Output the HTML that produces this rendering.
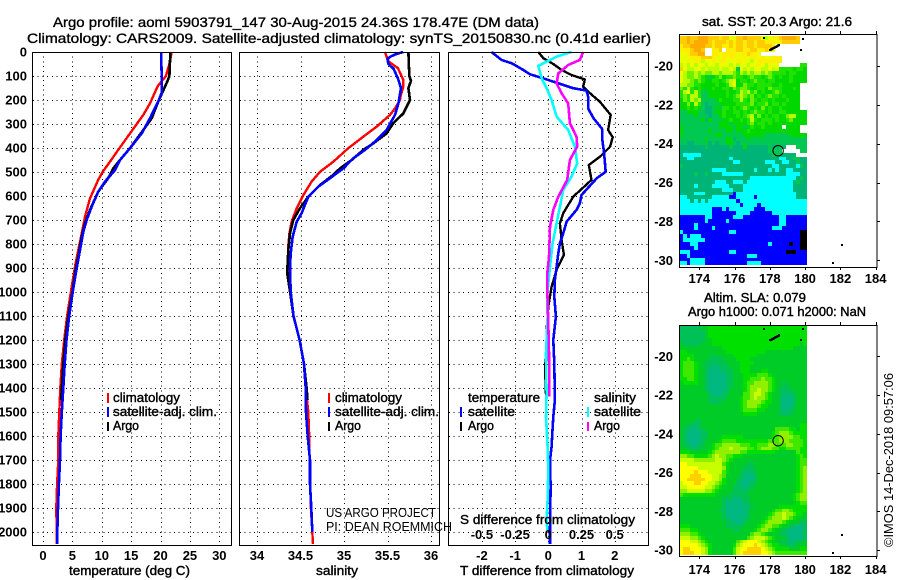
<!DOCTYPE html>
<html lang="en">
<head>
<meta charset="utf-8">
<title>Argo profile 5903791_147</title>
<style>
html,body{margin:0;padding:0;background:#fff;}
svg{display:block;}
text{font-family:"Liberation Sans",sans-serif;fill:#000;}
.b{font-weight:bold;font-size:13px;}
.t{font-size:14px;stroke:#000;stroke-width:.35px;}
.l{font-size:13px;stroke:#000;stroke-width:.4px;}
.n{font-size:13px;}
</style>
</head>
<body>
<svg id="chart" xmlns="http://www.w3.org/2000/svg" width="900" height="580" viewBox="0 0 900 580">
<text class="t" x="53" y="27" textLength="486" lengthAdjust="spacingAndGlyphs">Argo profile: aoml 5903791_147 30-Aug-2015 24.36S 178.47E (DM data)</text>
<text class="t" x="27" y="43" textLength="624" lengthAdjust="spacingAndGlyphs">Climatology: CARS2009. Satellite-adjusted climatology: synTS_20150830.nc (0.41d earlier)</text>

<g id="gridT"></g>
<g id="gridS"></g>
<g id="gridD"></g>
<g id="linesT"></g>
<g id="linesS"></g>
<g id="linesD"></g>

<rect x="32.5" y="52.5" width="199" height="493" fill="none" stroke="#000"/>
<rect x="239.5" y="52.5" width="200" height="493" fill="none" stroke="#000"/>
<rect x="448.5" y="52.5" width="200" height="493" fill="none" stroke="#000"/>

<g id="tickLabels"></g>

<text class="l" x="69" y="575" textLength="121" lengthAdjust="spacingAndGlyphs">temperature (deg C)</text>
<text class="l" x="316" y="575" textLength="42" lengthAdjust="spacingAndGlyphs">salinity</text>
<text class="l" x="460" y="575" textLength="174" lengthAdjust="spacingAndGlyphs">T difference from climatology</text>
<text class="l" x="460" y="524" textLength="175" lengthAdjust="spacingAndGlyphs">S difference from climatology</text>

<g>
<rect x="107" y="393" width="2" height="10" fill="#f00"/>
<rect x="107" y="407" width="2" height="10" fill="#00f"/>
<rect x="107" y="422" width="2" height="9" fill="#000"/>
<text class="l" x="113" y="402" textLength="67" lengthAdjust="spacingAndGlyphs">climatology</text>
<text class="l" x="113" y="416" textLength="104" lengthAdjust="spacingAndGlyphs">satellite-adj. clim.</text>
<text class="l" x="113" y="430" textLength="26" lengthAdjust="spacingAndGlyphs">Argo</text>
</g>
<g>
<rect x="328" y="393" width="2" height="10" fill="#f00"/>
<rect x="328" y="407" width="2" height="10" fill="#00f"/>
<rect x="328" y="422" width="2" height="9" fill="#000"/>
<text class="l" x="335" y="402" textLength="67" lengthAdjust="spacingAndGlyphs">climatology</text>
<text class="l" x="335" y="416" textLength="104" lengthAdjust="spacingAndGlyphs">satellite-adj. clim.</text>
<text class="l" x="335" y="430" textLength="26" lengthAdjust="spacingAndGlyphs">Argo</text>
</g>
<g>
<text class="l" x="468" y="402" textLength="72" lengthAdjust="spacingAndGlyphs">temperature</text>
<rect x="460" y="407" width="2" height="10" fill="#00f"/>
<text class="l" x="468" y="416" textLength="47" lengthAdjust="spacingAndGlyphs">satellite</text>
<rect x="460" y="422" width="2" height="9" fill="#000"/>
<text class="l" x="468" y="430" textLength="26" lengthAdjust="spacingAndGlyphs">Argo</text>
<text class="l" x="594" y="402" textLength="42" lengthAdjust="spacingAndGlyphs">salinity</text>
<rect x="587" y="407" width="2" height="10" fill="#0ff"/>
<text class="l" x="594" y="416" textLength="47" lengthAdjust="spacingAndGlyphs">satellite</text>
<rect x="587" y="422" width="2" height="9" fill="#f0f"/>
<text class="l" x="594" y="430" textLength="26" lengthAdjust="spacingAndGlyphs">Argo</text>
</g>

<text class="n" x="326" y="517" textLength="110" lengthAdjust="spacingAndGlyphs">US ARGO PROJECT</text>
<text class="n" x="326" y="531" textLength="126" lengthAdjust="spacingAndGlyphs">PI: DEAN ROEMMICH</text>

<text class="l" x="702" y="26" textLength="150" lengthAdjust="spacingAndGlyphs">sat. SST: 20.3 Argo: 21.6</text>
<text class="l" x="704" y="302" textLength="102" lengthAdjust="spacingAndGlyphs">Altim. SLA: 0.079</text>
<text class="l" x="688" y="316" textLength="178" lengthAdjust="spacingAndGlyphs">Argo h1000: 0.071 h2000: NaN</text>

<g id="mapSST"></g>
<g id="mapSLA"></g>

<text class="n" x="893" y="547" textLength="174" lengthAdjust="spacingAndGlyphs" transform="rotate(-90 893 547)">©IMOS 14-Dec-2018 09:57:06</text>
</svg>

<script>
// ---- profile data ----
var tempClimDepth = [0,50,101,143,214,262,339,408,457,499,533,610,686,756,825,894,983,1100,1200,1300,1400,1500,1600,1700,1800,1900,2000,2050];
var tempClim = [21.9,21.5,20.9,19.5,18.2,17.07,14.8,12.8,11.4,10.16,9.4,8,7.15,6.58,6,5.44,4.85,4.1,3.6,3.2,2.95,2.78,2.6,2.6,2.4,2.27,2.33,2.33];
var tempArgoDepth = [0,100,120,207,276,325,401,450,485,526,582,658,714,769,853,901,1000,1100,1200,1300,1400,1450];
var tempArgo = [21.67,21.5,21.2,19.6,18.5,17.07,14.8,13.1,11.97,11.1,9.4,8,7.15,6.58,6,5.6,5,4.3,3.8,3.45,3.2,3.1];
var tempSatDepth = [0,100,170,207,276,339,401,450,492,540,582,644,700,749,825,901,1000,1100,1200,1300,1400,1500,1600,1700,1800,1900,2000,2050];
var tempSat = [20.1,20.2,20.2,19.6,18.2,16.8,14.8,13.1,12.25,10.55,9.4,8.28,7.43,6.86,6.3,5.73,5.05,4.45,4,3.7,3.46,3.2,3,2.9,2.7,2.55,2.44,2.44];

var salClimDepth = [0,39,67,115,146,185,200,235,262,311,353,401,457,499,540,596,651,707,756,811,900,1000,1100,1200,1300,1400,1500,1600,1800,1900,2000,2050];
var salClim = [35.47,35.51,35.62,35.68,35.68,35.65,35.644,35.586,35.529,35.376,35.222,35.05,34.877,34.724,34.628,34.533,34.456,34.398,34.372,34.36,34.36,34.38,34.42,34.49,34.54,34.56,34.59,34.6,34.61,34.62,34.636,34.644];
var salArgoDepth = [0,100,120,150,200,256,297,339,381,408,450,485,512,554,603,651,700,756,825,901,930,1000,1100,1200,1300,1400,1450];
var salArgo = [35.74,35.75,35.77,35.74,35.759,35.682,35.567,35.49,35.337,35.222,35.088,34.954,34.877,34.724,34.59,34.494,34.417,34.379,34.36,34.349,34.35,34.38,34.42,34.49,34.54,34.57,34.58];
var salSatDepth = [0,10,20,30,50,70,110,150,214,262,325,367,408,443,485,526,561,603,672,707,769,839,901,1000,1100,1200,1300,1400,1500,1600,1700,1800,1900,2000];
var salSat = [35.68,35.59,35.53,35.5,35.51,35.57,35.62,35.655,35.625,35.586,35.49,35.376,35.241,35.107,34.992,34.839,34.705,34.59,34.513,34.456,34.41,34.387,34.379,34.387,34.42,34.49,34.54,34.56,34.563,34.583,34.609,34.609,34.624,34.636];

var dTSatDepth = [0,33,47,75,93,110,128,151,161,186,235,276,322,367,422,499,526,596,631,658,707,756,797,839,950,1019,1103,1200,1297,1450,1519,1589,1644,1700,1811,1992,2050];
var dTSat = [-1.71,-1.41,-1.1,-0.75,-0.55,-0.15,0.25,0.75,1.15,1.2,1.2,1.36,1.63,1.63,1.68,1.73,1.46,1,0.95,0.85,0.55,0.45,0.35,0.3,0.2,0.18,0.23,0.15,0.18,0.2,0.15,0.12,0.1,0.05,0.07,0.05,0.05];
var dTArgoDepth = [0,26,50,75,96,114,144,165,207,262,325,355,394,436,471,533,603,672,714,783,846,908,978,1061,1158,1228,1311,1429];
var dTArgo = [-0.3,-0.15,0.15,0.4,0.7,1.1,1.05,1.2,1.55,1.88,1.8,1.94,1.86,1.56,1.22,1.3,0.75,0.45,0.35,0.4,0.47,0.25,0.1,0,-0.05,-0.03,-0.1,-0.07];
var dSSatDepth = [0,19,58,110,151,200,269,325,394,464,519,575,631,714,797,894,1006,1103,1256,1422,1519,1644,1742,1867,1950,1992];
var dSSat = [0.175,0.0625,-0.075,-0.05,-0.0125,0.025,0.0625,0.15,0.2,0.2175,0.175,0.1125,0.0925,0.0625,0.0325,0.0125,-0.0075,-0.005,-0.0175,-0.0125,-0.0175,-0.005,0,-0.005,-0.0125,-0.0075];
var dSArgoDepth = [0,33,54,89,131,172,214,297,353,394,450,533,603,658,728,853,922,992,1131,1256,1436];
var dSArgo = [0.2625,0.2375,0.15,0.075,0.0625,0.1,0.15,0.1625,0.2125,0.2175,0.1625,0.1425,0.075,0.0375,0.0125,0.005,-0.0075,-0.0075,0,0.005,0.0075];

// ---- tick labels ----
var depthTicks = [0,100,200,300,400,500,600,700,800,900,1000,1100,1200,1300,1400,1500,1600,1700,1800,1900,2000];
var tempTicks = [0,5,10,15,20,25,30];
var salTicks = [34,34.5,35,35.5,36];
var dTTicks = [-2,-1,0,1,2];
var dSTicks = [-0.5,-0.25,0,0.25,0.5];
var lonTicks = [174,176,178,180,182,184];
var latTicks = [-20,-22,-24,-26,-28,-30];

// ---- map data: one letter per 0.2 degree cell, north to south ----
var sstRows = [
"BBABBAAABBBCBBDDBBABBBBDEDCCBAAAAB..",
"BBABAAAABCBBBCBCBBCBBCBBCCCDCBBBBB..",
"CBBAAAABBCBBCCBCBBCBBCBBBBC.........",
"CCCBAAB..CCB.CCCBBCCBBCCBCD.........",
"DDCBBAA..CCDCCCCDCCBCCD.............",
"DDDCCCBBBCDDCDCCDDCDCCDCDDCCC.......",
"DDCDCCEDDCDCCDDDCCDDEDCCCCCCC.......",
"EDEDEDDEDDEDDDEDEDDEDDCDEDDD......GG",
"BDEEDDEDEEEDEEDEIDEDEDDEEDEDGGGGHGGH",
"DEFFEFEFFEEFEEEFGEFEFEEFEFGGGGHGGHHH",
"DEFFEFGHIHGFHGGFGGHGFGGHGFGHGHHGHHHH",
"DEEFGFGHHGGHGFEDHGGHGFGGHGGHHHHGHHHH",
"EEFFGGHHHHGHHGEDHHFGGHGGGGHHGHHHHH..",
"FGEGHGHHHGHHGGHFGFFGHHGGHFGGGHHHGH..",
"GEDGEGIIHHHHHGHHGEFEGFHGHHGFGHHHHH..",
"GFGEEGIIHHHHHGHGFEFGFHGHGFGGHGHHHH..",
"HFGEFEIIIIHGHHHGGEGHFGHGGHGHHHGHHH..",
"HHFHEGIJIIIHHHHHGGGGFHGGFHGGHGHHHH..",
"HHGHGHIJJIHIGGHGHGFGHGHFHGHHGHHHHH..",
"IIHHHIIJJIHHGHHGGHGHGFGGHGHHGGHHHHHH",
"IIIIHIIIJIIHGHHHGHGFEHFHGHGGHHFEEHHH",
"IIIIIIHJHIIIHHGHHGHGEGHGGGHGHHGFHHHH",
"IIIIIIIIIIIHHHIHHHHGFHGGHGHHHHHHHHHH",
"HIIIIIIIIIIHHHHIHHIHGHHGHHHHH.HHHH..",
"HIIIIIIIHIIIIHHIHHHGHHHHHHHHHHHHHH..",
"HIIIIIIIIIHHIIIIIIHHHHHHIIIIIIIHHHHH",
"IIIIIIIHIIIIIHHJIIIHIIIIIIIIIIIIIIII",
"IIJJIIIIJIJIIHHIJIIIIIIIIIIIIIIIIIII",
"JJJJJJJIJJJJJJIJJJHJJJJJJIJJIJ...III",
"JJJJJJJJJJJJJJJJJJJJJJJJJIIII.....II",
"JKKKKKJJJJJJJJJJJJJJJJJJJJIIIJJJJ...",
"JJKKJJJJJJJJJJKJJJJJJJJJJJJJKKJJIIJJ",
"JJJJJJJJJJJJJJJKKJJJJJJJKKKJJKKJJIJJ",
"IJJJJJJJJJJJJJJJJJJJJJJJJJKKJJJJJKIJ",
"JJJJJJJJJKKKKJJJJJJJJKJJJKJKJJKKJJJJ",
"JJJJIJJIJJJJKKKKKKJJJJJJJJJJJJKKKKJJ",
"JJJJJJJJJJJJJJJJJJJJKKKKKKKKKKKKKJIJ",
"JJJJJJJJJJKKKJJKKKJKKKKKKKKKKKKKJIJJ",
"JJJJKJJJJKKKKKJJJJKKKKKKKKKKKKKKJJJJ",
"JJJJJJJJJJJJKKKJJJKKKKKKKKKKKKKKJJJJ",
"JJJJKKKJJJJJJJJLKKKKKKKKKKKKKKKKKJJJ",
"KKJJJJJJJKKKKKLLKKKKKLKKKKKKKKKKKJJJ",
"KKKJKJKJKKKKKKKKLKKKKKKKKKKKKKKKKKKK",
"KKKKKKKKKKKKKKKKKLKKKKLKKKKKKKKKKKKK",
"KKKKKKKKKLLLKLKKKKKKKLLLKKKKKKKKKKKK",
"KKKKKKKKKLLLLLLLKKKKLLLLLLKKKKKKKKKK",
"LLLLLLLKKLLLLLLKKKLLLLLLLLLLKKLLLLLL",
"LLLLLLLKLLLLLKLLLLLLLLLLLLLLKKLLLLLL",
"LLLLKLLLLLLLLLLLLLLLLLLLLLLLKKLLLLLL",
"LLLLKLLLLKLLLLLLLLLLLLLLLLKKKLLLLLLL",
"KLLLLLLLLLLLLLKKLLLLLLLLLLLLLLLLLLMM",
"LKLKKKLLLLLLLLLLLLLLLLLLLLLLLLLLLLMM",
"LKKKKKKLLLLLLLLLLLLLLLLLLLLLLLLLLLMM",
"LLLKKLLLLLLLLLLLLLLLLLLLLKLLLLLMLLMM",
"LLLLKLLLLLLLLLLLLLLLLLLLLLLLLLLLLLMM",
"KKKLLLLLLLLLLLKKLLLLLLLLLLLLLLMMMLLL",
"LLKLLLLLLLLLLLLLLLLKKKLLLLLLLLLLLLLL",
"LLLKKKKLLLLLLLLLLLLLLLLLLLLLLLLLLLLL",
"KKLKKKKLLLLLLLLLLLLKKKKLLLLLLLLLLLLL"
];
var slaRows = [
"UUUUUUVVWWWWWWWWWWWWWWWWWWWWWWWWWWWW",
"UUUUUUUVWWWWWWWWWWWWWWWWWWWWWWWWWWWW",
"UUUUUUUVWWWWWWWWWWWWWWWWWWWWWWWWWWWW",
"UUUUUUUVVWWWWWWWWWWWWWWWWWWWWWWWWWWW",
"VUUUUUVVVWWWWWWWWWWWWWWWWWWWWWWWWWVW",
"VVVVVVVVVVVVWWWWWWWWWWWWWWWWWWWWVVVV",
"WWVVVVVVVVVVVWWWWWWWWWWWVVVVVVVVVVVV",
"WWWWVVVVVUVVVVVWWWWWWWVVVVVVVVVVVVVV",
"WWXWVVVVUUUUVVVVWWWWVVVVVVVVVVVVVVVV",
"WXXXWVVUUUUUUVVVVWWWWVVVVVVVVVVVVVVV",
"WXXXWVVUUTTUUUVVVWWWVVVVVVVVVVVVVVVV",
"WXXXWVVUTTTTUUUVVWWWVVVWWVVVVVVVVVVV",
"WXXXWVVUTTTTTUUVVVWWWWXXXWVVVVVVVVVV",
"WWXXWVVUTTTTTUUVVVWWXXXYXXWVVVVVVVVV",
"VWWWWVVUTTTTTUUVVVWXXYYYYXWVVUVVVVVV",
"VVVVVVVUTTTTTUUVVVWXYYYYYXWVVUUVVVVV",
"VVVVVVVUTTTTTUVVVVWXYYZYYXWVUUUUVVVV",
"VVVVVVVVUTTTUUVVVVXXYZZYXWVVUUTUUVVV",
"VVVVVVVVUUUUUVVVVWXXYZYYXWVVUTTTUVVV",
"VVVVVVVVUUUUVVVVVWXYYYYXWWVVUTTTUVVV",
"VVVVVVVVVVVVVVVVVWXYYYXWWVVVUTTTUVVV",
"VVVVVVVVVVVVVVVVVWXXXXWWVVVVUTTUVVVV",
"VVVVVVVVVVVVVVVVVVWWWWVVVVVVUUUUVVVV",
"VVVVVVVVVVVVVVVVVVVVVVVVVVVVVVVVVVVV",
"VVVVUUVVVVVVVVVVVVVVVVVVVVVVVVVVVVVV",
"VVUUUUVVVVVVVVVVVVVVVVVVVVVVVVVVVVWW",
"VUUTTUUVVVVVVVVVVVVVVVVVVVVXXXXWWVWW",
"VUTTTTUUVVVVVVVVVVVVVVVVVVWXYYYXWWWW",
"VUTTTTUUVVVVWWWWWWVVVVVVVVWXYYYYXXWW",
"VUTTTTUVVVVWXXXXWWWWWWWWWXXXYYYXXXXW",
"VUUTTUUVVWXXYYYYYXXXWWXXXYYXXXYYXXXW",
"VVUUUUVVVWXYYYZYYYYXXWXYYYXXWWXXXXWW",
"WWWVVVVVWXYYYYYYYXXWWWWWWWWVVVVVVXWW",
"YYXXWWWWXYZYYXXWWWVVVVVVVVVVVVVVVWXW",
"ZZZZYYYYYYZZYXWVVVVVVVVVVVVVVVVVVWXX",
"QQZZZZZZZZZZXWVVVVVUUVVVVVVVVVVVVWXX",
"QQQQQZZZZZZZYWVVVVUUUVVVVVVVVVVVVWXY",
"QQQQRQQQZZZZXWVVVUUTUUVVVVVVVVVVVWXY",
"QQQRRRQQQZZYXVVVVUTTTUVVVVVVVVVVVWXY",
"QQRRRRRQQZZYWVVVUUTTTUVVVVVVVVVVVWXY",
"ZQQQRRQQZZYXWVVVUTTTUUVVVVVVVVVVVWXY",
"ZZQQQQQZZYXWVVVUUTTUUVVVVVVVVVVVVWXY",
"YYZZZZZYYXWVVVVUUUUUVVVVVVVVVVVVVWXY",
"XWWWWWWWWWVVVVUUUUUVVVVVVVVVVVVVWXYY",
"VVVVVVVVVVVVUUUTTUUUVVVVVVVVVVVVWXYY",
"VVVVVVVVVVVVUTTTTTUUVVVVVVVVVVVVVWXX",
"VVVVVVVVVVVVUTTTTTTUUVVVVVVVWWWWWWWW",
"VVVVVVVVVVVUUTTTTTTUVVVVVVWXXYYXWWWW",
"VVVVVVVVVVVVUTTTTTTUVVVVVWXYYZYYXWWV",
"VVVVVVVVVVVVUUTTTTUUVVVVWXYYYZYXWVVV",
"VVVVVVVVVVVVVUUTTTUVVVVWXYYYYXWVVVUU",
"WWWVVVVVVVVVVUUUUUVVVVWXYYXXWVVUUTTU",
"XXXWWVVVVVVVVVVUUVVVVWXYYXWVVUUTTTTU",
"YYYXXWVVVVVVVVVVVVVVXYYXWVVVUUTTTTTU",
"ZZZYYXWVVVVVVVVVVVVXYZZZYXWVVVUTTTTU",
"QQQZZYXWVVVVVVVVXYZQQQZYXWVVUUUTTUUV",
"QQQQQZYXWVVVVVVWYZQQQRQZYXWWVVUUUVVV",
"QRRQQQZYWVVVVVVXZQQRRRRQZYXWWWWVVVWW",
"QRRRQQZYWVVVVVVXZQRRRRRQQZYXXXXXXXXX"
];
var cellColors = {
  A:"#ffaa00",B:"#ffcc00",C:"#ffee00",D:"#e8ff00",E:"#b8ff00",F:"#70f000",G:"#20e400",H:"#00d800",I:"#00c850",J:"#00b478",K:"#00ffff",L:"#0000ff",M:"#000000",
  T:"#00b880",U:"#00c058",V:"#00cc28",W:"#00e000",X:"#40e800",Y:"#90f000",Z:"#c8ff00",Q:"#ffff00",R:"#ffd000"
};

// profile position and small islands (lon, lat)
var profileLon = 178.47;
var profileLat = -24.36;
var islandLons = [178.01,178.54,177.67,179.9,179.77,182.09,181.6];
var islandLats = [-19.18,-18.92,-18.57,-18.61,-19.18,-29.2,-30.15];

// ---- axis functions ----
function depthY(d){return 52+d*0.24;}
function tempX(v){return 43+5.877*v;}
function salX(v){return 257+87*(v-34);}
function dTX(v){return 548.3+33.2*v;}
function dSX(v){return 548.3+132.8*v;}
function lonX(v){return 699.3+17.63*(v-174);}
function sstY(v){return 66+19.43*(-20-v);}
function slaY(v){return 356.3+19.37*(-20-v);}

var NS='http://www.w3.org/2000/svg';

function drawGrid(group,left,right,ticks,xf){
  depthTicks.forEach(function(d){
    if(d===0)return;
    var y=Math.round(depthY(d))+0.5;
    var ln=document.createElementNS(NS,'line');
    
    
    ln.setAttribute('x1',left);ln.setAttribute('x2',right);ln.setAttribute('y1',y);ln.setAttribute('y2',y);
    ln.setAttribute('stroke','#000');ln.setAttribute('stroke-dasharray','1 3.7');ln.setAttribute('shape-rendering','crispEdges');
    group.appendChild(ln);
  });
  ticks.forEach(function(t){
    var x=Math.round(xf(t))+0.5;
    var ln=document.createElementNS(NS,'line');
    
    
    ln.setAttribute('x1',x);ln.setAttribute('x2',x);ln.setAttribute('y1',52);ln.setAttribute('y2',545);
    ln.setAttribute('stroke','#000');ln.setAttribute('stroke-dasharray','1 3.7');ln.setAttribute('shape-rendering','crispEdges');
    group.appendChild(ln);
  });
}
drawGrid(document.getElementById('gridT'),33,231,tempTicks,tempX);
drawGrid(document.getElementById('gridS'),240,439,salTicks,salX);
drawGrid(document.getElementById('gridD'),449,648,dTTicks,dTX);

function drawLine(group,depths,values,xf,color,width,name){
  var pts=[];
  for(var i=0;i<depths.length&&i<values.length;i++){pts.push(xf(values[i]).toFixed(1)+','+depthY(depths[i]).toFixed(1));}
  var pl=document.createElementNS(NS,'polyline');
  
  
  pl.setAttribute('points',pts.join(' '));
  pl.setAttribute('fill','none');pl.setAttribute('stroke',color);pl.setAttribute('stroke-width',width);
  pl.setAttribute('shape-rendering','crispEdges');
  group.appendChild(pl);
}
var gT=document.getElementById('linesT'),gS=document.getElementById('linesS'),gD=document.getElementById('linesD');
drawLine(gT,tempClimDepth,tempClim,tempX,'#f00',2.4,'temperature-climatology-line');
drawLine(gT,tempArgoDepth,tempArgo,tempX,'#000',2.6,'temperature-argo-line');
drawLine(gT,tempSatDepth,tempSat,tempX,'#00f',2.6,'temperature-satellite-line');
drawLine(gS,salClimDepth,salClim,salX,'#f00',2.4,'salinity-climatology-line');
drawLine(gS,salArgoDepth,salArgo,salX,'#000',2.6,'salinity-argo-line');
drawLine(gS,salSatDepth,salSat,salX,'#00f',2.6,'salinity-satellite-line');
drawLine(gD,dTArgoDepth,dTArgo,dTX,'#000',2.4,'t-difference-argo-line');
drawLine(gD,dTSatDepth,dTSat,dTX,'#00f',2.6,'t-difference-satellite-line');
drawLine(gD,dSSatDepth,dSSat,dSX,'#0ff',2.6,'s-difference-satellite-line');
drawLine(gD,dSArgoDepth,dSArgo,dSX,'#f0f',2.6,'s-difference-argo-line');

// ---- tick labels ----
var tl=document.getElementById('tickLabels');
function addLabel(x,y,str,anchor,name){
  var t=document.createElementNS(NS,'text');
  
  
  t.setAttribute('class','b');
  t.setAttribute('x',x);t.setAttribute('y',y);t.setAttribute('text-anchor',anchor);
  t.textContent=str;
  tl.appendChild(t);
}
depthTicks.forEach(function(d){addLabel(27,depthY(d)+4.5,String(d),'end','depth-tick-label');});
tempTicks.forEach(function(v){addLabel(tempX(v),560,String(v),'middle','temperature-tick-label');});
salTicks.forEach(function(v){addLabel(salX(v),560,String(v),'middle','salinity-tick-label');});
dTTicks.forEach(function(v){addLabel(dTX(v),560,String(v),'middle','t-difference-tick-label');});
dSTicks.forEach(function(v){addLabel(dSX(v),539,String(v),'middle','s-difference-tick-label');});

// ---- maps ----
function drawMap(group,rows,yf,frameTop,frameBottom,lblY){
  var lon0=172.9,lat0=-18.46,step=0.2;
  rows.forEach(function(row,r){
    for(var c=0;c<36;c++){
      var ch=row.charAt(c)||row.charAt(row.length-1);
      if(ch==='.')continue;
      var x0=Math.round(lonX(lon0+c*step)),x1=Math.round(lonX(lon0+(c+1)*step));
      var y0=Math.round(yf(lat0-r*step)),y1=Math.round(yf(lat0-(r+1)*step));
      var cell=document.createElementNS(NS,'rect');
      
      
      cell.setAttribute('x',x0);cell.setAttribute('y',y0);cell.setAttribute('width',x1-x0);cell.setAttribute('height',y1-y0);
      cell.setAttribute('fill',cellColors[ch]);cell.setAttribute('shape-rendering','crispEdges');
      group.appendChild(cell);
    }
  });
  // islands
  islandLons.forEach(function(lon,i){
    var dot=document.createElementNS(NS,'rect');
    
    
    dot.setAttribute('x',Math.round(lonX(lon))-1);dot.setAttribute('y',Math.round(yf(islandLats[i]))-1);
    dot.setAttribute('width',2);dot.setAttribute('height',2);dot.setAttribute('fill','#000');
    group.appendChild(dot);
  });
  var coast=document.createElementNS(NS,'line');
  
  
  coast.setAttribute('x1',lonX(islandLons[0]));coast.setAttribute('y1',yf(islandLats[0]));
  coast.setAttribute('x2',lonX(islandLons[1]));coast.setAttribute('y2',yf(islandLats[1]));
  coast.setAttribute('stroke','#000');coast.setAttribute('stroke-width',2.5);coast.setAttribute('shape-rendering','crispEdges');
  group.appendChild(coast);
  // frame
  var fr=document.createElementNS(NS,'rect');
  
  
  fr.setAttribute('x',679.5);fr.setAttribute('y',frameTop+0.5);fr.setAttribute('width',197.5);fr.setAttribute('height',frameBottom-frameTop);
  fr.setAttribute('fill','none');fr.setAttribute('stroke','#000');
  group.appendChild(fr);
  // ticks and labels
  lonTicks.forEach(function(v){
    var x=Math.round(lonX(v))+0.5;
    [[frameTop-3,frameTop],[frameBottom,frameBottom+3]].forEach(function(s){
      var k=document.createElementNS(NS,'line');
      
      
      k.setAttribute('x1',x);k.setAttribute('x2',x);k.setAttribute('y1',s[0]);k.setAttribute('y2',s[1]);
      k.setAttribute('stroke','#000');
      group.appendChild(k);
    });
    addLabel(lonX(v),lblY,String(v),'middle','longitude-tick-label');
  });
  latTicks.forEach(function(v){
    var y=Math.round(yf(v))+0.5;
    var k=document.createElementNS(NS,'line');
    
    
    k.setAttribute('x1',877);k.setAttribute('x2',880);k.setAttribute('y1',y);k.setAttribute('y2',y);
    k.setAttribute('stroke','#000');
    group.appendChild(k);
    addLabel(673,yf(v)+4.5,String(v),'end','latitude-tick-label');
  });
  // profile position
  var circ=document.createElementNS(NS,'circle');
  
  
  circ.setAttribute('cx',lonX(profileLon));circ.setAttribute('cy',yf(profileLat));circ.setAttribute('r',5.2);
  circ.setAttribute('fill','none');circ.setAttribute('stroke','#000');
  group.appendChild(circ);
}
drawMap(document.getElementById('mapSST'),sstRows,sstY,34,267,283);
drawMap(document.getElementById('mapSLA'),slaRows,slaY,325,556,574);
</script>
</body>
</html>
